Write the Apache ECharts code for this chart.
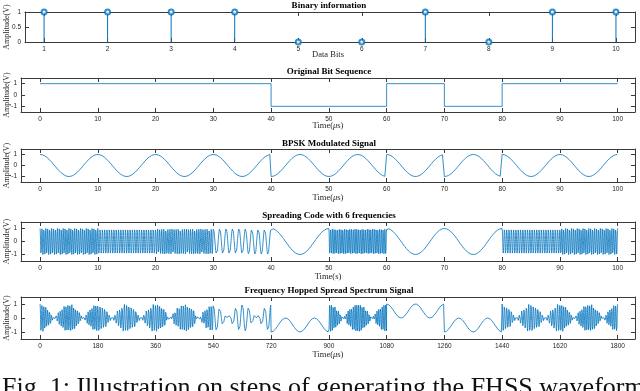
<!DOCTYPE html>
<html><head><meta charset="utf-8">
<script src="https://cdn.jsdelivr.net/npm/echarts@6/dist/echarts.min.js"></script>
<style>html,body{margin:0;padding:0;background:#fff}#c{width:640px;height:391px}</style>
</head><body><div id="c"></div>
<script>
// ---- data ----
const bitIndex = [1, 2, 3, 4, 5, 6, 7, 8, 9, 10];
const bits = [1, 1, 1, 1, 0, 0, 1, 0, 1, 1];
const bitTicks = [1, 2, 3, 4, 5, 6, 7, 8, 9, 10];
const timeTicks = [0, 10, 20, 30, 40, 50, 60, 70, 80, 90, 100];
const fhssTicks = [0, 180, 360, 540, 720, 900, 1080, 1260, 1440, 1620, 1800];
const ampTicks = [-1, 0, 1];
const binTicks = [0, 0.5, 1];
const bitPeriod = 10;             // μs per bit
const carrierCycles = 1;          // carrier cycles per bit period
const codeCycles = [30, 25, 28, 9, 1, 33, 1, 1, 25, 30]; // spreading-code cycles per bit period
const fhssScale = 18;             // time scale of last panel
const titles = ['Binary information', 'Original Bit Sequence', 'BPSK Modulated Signal',
  'Spreading Code with 6 frequencies', 'Frequency Hopped Spread Spectrum Signal'];

// ---- build series data ----
const dt = 0.01;
const level = bits.map(b => b ? 1 : -1);
const stepData = [], bpskData = [], codeData = [], fhssData = [];
for (let i = 0; i < bits.length; i++) {
  const t0 = i * bitPeriod;
  stepData.push([t0, level[i]], [t0 + bitPeriod, level[i]]);
  const n = Math.round(bitPeriod / dt);
  for (let k = 0; k <= n; k++) {
    const t = t0 + k * dt;
    const b = level[i] * Math.cos(2 * Math.PI * carrierCycles * t / bitPeriod);
    const c = Math.cos(2 * Math.PI * codeCycles[i] * t / bitPeriod);
    bpskData.push([t, b]);
    codeData.push([t, c]);
    fhssData.push([t * fhssScale, b * c]);
  }
}

// ---- layout ----
const C = '#0072BD';
const AX = '#3a3a3a';
const panels = [
  {left: 25, top: 12, height: 30, xmin: 0.7, xmax: 10.3, xt: bitTicks, ymin: 0, ymax: 1, yt: binTicks,
   ty: 5.5, xl: 'Data Bits', xly: 55, yly: 27},
  {left: 21, top: 78, height: 34, xmin: -3.3, xmax: 103, xt: timeTicks, ymin: -1.5, ymax: 1.5, yt: ampTicks,
   ty: 72, xl: 'mu', xly: 126, yly: 95},
  {left: 21, top: 149, height: 33, xmin: -3.3, xmax: 103, xt: timeTicks, ymin: -1.5, ymax: 1.5, yt: ampTicks,
   ty: 143.3, xl: 'mu', xly: 198, yly: 165.5},
  {left: 21, top: 222, height: 39, xmin: -3.3, xmax: 103, xt: timeTicks, ymin: -1.5, ymax: 1.5, yt: ampTicks,
   ty: 215.7, xl: 'Time(s)', xly: 276.5, yly: 241.5},
  {left: 21, top: 297, height: 42, xmin: -3.3 * fhssScale, xmax: 103 * fhssScale, xt: fhssTicks, ymin: -1.5, ymax: 1.5, yt: ampTicks,
   ty: 291, xl: 'mu', xly: 355, yly: 318}
];

const grid = [], xAxis = [], yAxis = [], graphic = [];
const lineStyle = {color: AX, width: 1};
const labelFont = {fontSize: 6.5, color: '#262626', fontFamily: 'Liberation Sans', formatter: v => String(v)};
panels.forEach((p, gi) => {
  grid.push({left: p.left, right: 5, top: p.top, height: p.height});
  ['bottom', 'top'].forEach((pos, j) => {
    xAxis.push({type: 'value', gridIndex: gi, position: pos, min: p.xmin, max: p.xmax,
      axisLine: {show: true, onZero: false, lineStyle},
      axisTick: {show: true, inside: true, length: 4, customValues: p.xt, lineStyle},
      axisLabel: Object.assign({show: j === 0, margin: 4, customValues: p.xt}, labelFont),
      splitLine: {show: false}});
  });
  ['left', 'right'].forEach((pos, j) => {
    yAxis.push({type: 'value', gridIndex: gi, position: pos, min: p.ymin, max: p.ymax,
      axisLine: {show: true, onZero: false, lineStyle},
      axisTick: {show: true, inside: true, length: 4, customValues: p.yt, lineStyle},
      axisLabel: Object.assign({show: j === 0, margin: 4, customValues: p.yt}, labelFont),
      splitLine: {show: false}});
  });
  graphic.push({type: 'text', x: 329, y: p.ty, style: {text: titles[gi], font: 'bold 9px "Liberation Serif"',
    fill: '#000', textAlign: 'center', textVerticalAlign: 'middle'}});
  if (p.xl === 'mu') {
    graphic.push({type: 'text', x: 328, y: p.xly, style: {text: '{n|Time(}{i|μ}{n|s)}',
      rich: {n: {font: '8.5px "Liberation Serif"', fill: '#262626'}, i: {font: 'italic 8.5px "Liberation Serif"', fill: '#262626'}},
      textAlign: 'center', textVerticalAlign: 'middle'}});
  } else {
    graphic.push({type: 'text', x: 328, y: p.xly, style: {text: p.xl, font: '8.5px "Liberation Serif"',
      fill: '#262626', textAlign: 'center', textVerticalAlign: 'middle'}});
  }
  graphic.push({type: 'text', x: 7, y: p.yly, rotation: Math.PI / 2, style: {text: 'Amplitude(V)',
    font: '8px "Liberation Serif"', fill: '#262626', textAlign: 'center', textVerticalAlign: 'middle'}});
});
graphic.push({type: 'text', x: 2, y: 388, style: {text: 'Fig. 1: Illustration on steps of generating the FHSS waveform',
  font: '26px "Liberation Serif"', fill: '#111', textAlign: 'left', textVerticalAlign: 'middle'}});

const lineBase = {type: 'line', showSymbol: false, sampling: 'none', animation: false,
  lineStyle: {color: C, width: 0.8}, itemStyle: {color: C}};
const series = [
  {type: 'custom', xAxisIndex: 0, yAxisIndex: 0, clip: false,
   data: bitIndex.map((b, i) => [b, bits[i]]),
   renderItem: (params, api) => {
     const p0 = api.coord([api.value(0), 0]);
     const p1 = api.coord([api.value(0), api.value(1)]);
     return {type: 'line', shape: {x1: p0[0], y1: p0[1], x2: p1[0], y2: p1[1]},
       style: {stroke: C, lineWidth: 1}};
   }},
  {type: 'scatter', xAxisIndex: 0, yAxisIndex: 0, clip: false, symbol: 'emptyCircle', symbolSize: 5,
   itemStyle: {color: C, borderWidth: 1}, data: bitIndex.map((b, i) => [b, bits[i]])},
  Object.assign({}, lineBase, {xAxisIndex: 2, yAxisIndex: 2, data: stepData}),
  Object.assign({}, lineBase, {xAxisIndex: 4, yAxisIndex: 4, data: bpskData}),
  Object.assign({}, lineBase, {xAxisIndex: 6, yAxisIndex: 6, data: codeData}),
  Object.assign({}, lineBase, {xAxisIndex: 8, yAxisIndex: 8, data: fhssData})
];

const chart = echarts.init(document.getElementById('c'), null, {renderer: 'canvas'});
chart.setOption({animation: false, backgroundColor: '#fff', grid, xAxis, yAxis, series, graphic});
</script></body></html>
